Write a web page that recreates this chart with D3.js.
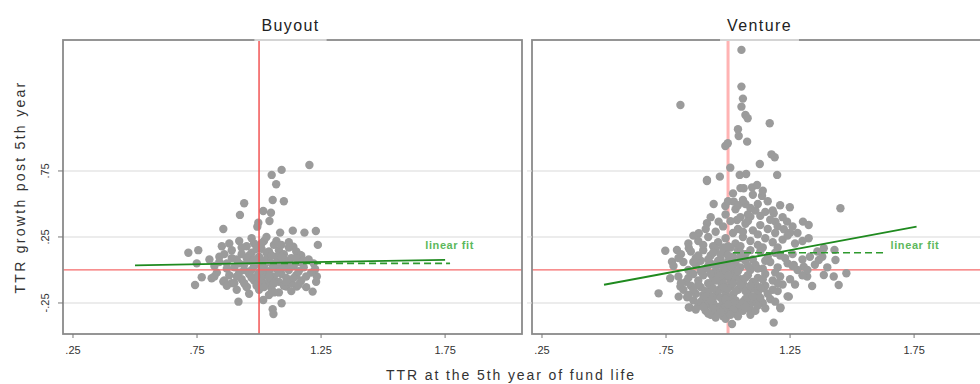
<!DOCTYPE html>
<html>
<head>
<meta charset="utf-8">
<script src="https://cdn.jsdelivr.net/npm/d3@7"></script>
<style>
  body { margin: 0; background: #fff; }
  svg { display: block; font-family: "Liberation Sans", Arial, sans-serif; }
</style>
</head>
<body>
<svg id="chart" width="980" height="384"></svg>
<script>
// Panel names
const panels = ["Buyout", "Venture"];

// Axis ticks
const xTicks = [0.25, 0.75, 1.25, 1.75];
const xTickLabels = [".25", ".75", "1.25", "1.75"];
const yTicks = [0.75, 0.25, -0.25];
const yTickLabels = [".75", ".25", "-.25"];

// Linear fit end points [x, y]
const buyoutFit = [[0.5, 0.035], [1.75, 0.077]];
const ventureFit = [[0.5, -0.112], [1.76, 0.328]];

// Dashed reference segment [x0, x1, y]
const buyoutDash = [1.0, 1.77, 0.05];
const ventureDash = [1.02, 1.64, 0.13];

// Label position "linear fit"
const buyoutLabel = [1.67, 0.19];
const ventureLabel = [1.655, 0.19];

// Buyout scatter (TTR at 5th year, TTR growth post 5th year)
const buyoutPoints = [
  [1.203,0.795],[1.091,0.758],[1.051,0.72],[1.069,0.649],[1.055,0.53],[1.10,0.52],
  [0.94,0.505],[0.923,0.417],[1.017,0.447],[1.048,0.434],[1.042,0.371],[0.997,0.358],
  [0.993,0.328],[0.856,0.31],[1.085,0.283],[1.136,0.298],[1.183,0.283],[1.229,0.295],
  [1.237,0.19],[0.715,0.131],[0.755,0.15],[0.749,0.05],[0.769,-0.055],[0.742,-0.114],
  [0.809,-0.063],[0.917,-0.24],[1.017,-0.227],[1.091,-0.252],[1.055,-0.298],[1.058,-0.333],
  [1.216,-0.164],[1.233,-0.05],[1.226,0.005],[1.165,0.114],[1.138,0.177],[1.152,-0.126],
  [1.11,-0.126],[0.95,-0.126],[0.89,-0.10],[0.856,-0.088],
  [0.80,0.08],[0.82,0.03],[0.84,0.10],[0.83,-0.02],[0.86,0.12],[0.87,0.05],[0.88,-0.04],
  [0.86,-0.08],[0.89,0.15],[0.90,0.02],[0.91,0.08],[0.90,-0.10],[0.92,-0.02],[0.93,0.12],
  [0.94,0.04],[0.93,-0.07],[0.95,0.18],[0.95,-0.13],[0.96,0.07],[0.96,-0.03],[0.97,0.13],
  [0.97,0.00],[0.98,-0.08],[0.98,0.20],[0.99,0.05],[0.99,-0.12],[1.00,0.10],[1.00,-0.02],
  [1.01,0.16],[1.01,-0.06],[1.02,0.03],[1.02,0.22],[1.03,-0.10],[1.03,0.08],[1.04,-0.01],
  [1.04,0.14],[1.05,0.05],[1.05,-0.14],[1.06,0.19],[1.06,-0.05],[1.07,0.10],[1.07,0.01],
  [1.08,-0.09],[1.08,0.15],[1.09,0.04],[1.09,-0.03],[1.10,0.12],[1.10,-0.12],[1.11,0.07],
  [1.11,-0.06],[1.12,0.17],[1.12,0.00],[1.13,-0.10],[1.13,0.09],[1.14,0.03],[1.15,-0.04],
  [1.15,0.14],[1.16,0.06],[1.17,-0.08],[1.17,0.11],[1.18,0.02],[1.19,-0.13],[1.20,0.08],
  [1.21,-0.02],[1.22,0.05],[1.23,-0.09],[0.85,0.18],[0.88,0.20],[0.92,0.22],[0.97,0.24],
  [1.03,0.25],[1.07,0.22],[1.12,0.21],[0.91,-0.15],[0.96,-0.18],[1.00,-0.15],[1.04,-0.19],
  [1.08,-0.17],[1.13,-0.16],[0.94,0.00],[0.98,0.03],[1.02,-0.04],[1.06,0.02],[1.00,0.05],
  [1.04,0.09],[0.96,0.11],[1.08,0.06],[1.01,0.00],[0.99,-0.05],[1.05,-0.08],
  [0.84,0.06],[0.87,0.01],[0.89,0.09],[0.91,-0.05],[0.92,0.05],[0.94,-0.10],[0.95,0.09],
  [0.97,-0.06],[0.98,0.08],[0.99,0.16],[1.01,-0.10],[1.02,0.07],[1.03,0.13],[1.04,-0.05],
  [1.05,0.11],[1.06,-0.10],[1.07,0.05],[1.08,-0.01],[1.09,0.10],[1.10,0.02],[1.11,-0.09],
  [1.12,0.05],[1.14,-0.06],[1.15,0.09],[1.16,-0.01],[1.18,0.07],[1.19,-0.05],[0.93,0.17],
  [1.01,0.20],[1.09,0.19],[0.82,-0.05],[0.87,-0.12],[1.02,-0.13],[1.06,-0.17],[1.16,-0.11]
];

// Venture scatter
const venturePoints = [
  [1.054,1.667],[1.054,1.389],[1.06,1.298],[1.054,1.237],[0.808,1.25],[1.07,1.174],
  [1.079,1.149],[1.168,1.111],[1.04,1.066],[1.043,1.015],[1.077,0.972],[0.989,0.939],
  [0.999,0.96],[1.175,0.876],[1.188,0.854],[1.128,0.803],[1.009,0.775],[0.915,0.682],
  [0.967,0.707],[1.047,0.72],[1.073,0.727],[1.198,0.72],
  [0.915,0.674],[1.063,0.619],[1.097,0.626],[1.117,0.644],[1.137,0.561],[0.942,0.50],
  [0.989,0.485],[1.023,0.518],[1.07,0.50],[1.249,0.475],[1.453,0.467],[0.915,0.354],
  [0.962,0.366],[1.036,0.379],[1.09,0.404],[1.184,0.429],[1.191,0.366],[1.238,0.366],
  [1.302,0.366],[1.325,0.341],[1.225,0.308],[1.251,0.283],[0.882,0.278],[1.325,0.24],
  [0.747,0.146],[0.794,0.152],[0.842,0.164],[1.386,0.164],[1.429,0.152],[1.433,0.076],
  [1.477,-0.025],[1.386,-0.038],[1.426,-0.05],[1.446,-0.114],[1.305,0.025],[1.319,-0.05],
  [1.339,-0.121],[1.265,0.038],[1.366,0.076],[0.72,-0.177],[0.801,-0.202],[0.835,-0.207],
  [0.842,-0.283],[1.211,-0.283],[1.245,-0.202],[1.184,-0.399],[1.016,-0.409],[1.144,-0.139],
  [0.767,-0.063],[0.808,-0.126],[0.774,0.063],[0.846,-0.285],[1.24,-0.20],[0.969,-0.328],
  [1.09,-0.303],[1.211,-0.29],
  [1.03,0.46],[1.06,0.53],[1.09,0.47],[1.12,0.50],[1.15,0.44],[1.08,0.42],[1.13,0.41],
  [1.05,0.40],[1.18,0.45],
  [0.98,0.33],[1.01,0.37],[1.04,0.31],[1.07,0.35],[1.10,0.30],[1.13,0.34],[1.16,0.31],
  [1.20,0.33],[0.95,0.29],[1.02,0.28],[1.12,0.27],[1.19,0.28],
  [0.88,0.22],[0.92,0.25],[0.96,0.21],[0.99,0.24],[1.03,0.20],[1.06,0.25],[1.09,0.22],
  [1.12,0.19],[1.15,0.24],[1.18,0.21],[1.22,0.23],[0.94,0.18],[1.01,0.17],[1.27,0.20],
  [1.30,0.22],
  [0.81,0.12],[0.85,0.14],[0.87,0.09],[0.90,0.15],[0.93,0.11],[0.95,0.16],[0.97,0.08],
  [0.99,0.13],[1.02,0.10],[1.04,0.15],[1.07,0.12],[1.10,0.08],[1.13,0.14],[1.16,0.10],
  [1.19,0.13],[1.23,0.09],[1.26,0.12],[1.33,0.10],[1.36,0.14],
  [0.78,0.03],[0.82,0.06],[0.84,0.00],[0.87,0.04],[0.89,0.07],[0.91,0.01],[0.93,0.05],
  [0.95,-0.01],[0.96,0.07],[0.98,0.02],[1.00,0.06],[1.02,0.00],[1.03,0.05],[1.05,0.02],
  [1.07,0.07],[1.09,0.00],[1.11,0.04],[1.14,0.01],[1.17,0.06],[1.20,0.02],[1.24,0.05],
  [1.28,0.00],[1.35,0.04],[1.40,0.02],
  [0.80,-0.05],[0.83,-0.09],[0.86,-0.03],[0.88,-0.08],[0.90,-0.04],[0.92,-0.10],[0.94,-0.06],
  [0.96,-0.02],[0.97,-0.09],[0.99,-0.05],[1.01,-0.08],[1.03,-0.03],[1.05,-0.07],[1.06,-0.10],
  [1.08,-0.04],[1.10,-0.09],[1.12,-0.06],[1.15,-0.03],[1.18,-0.08],[1.21,-0.05],[1.25,-0.07],
  [1.30,-0.04],
  [0.82,-0.15],[0.85,-0.12],[0.87,-0.18],[0.89,-0.13],[0.91,-0.16],[0.93,-0.12],[0.95,-0.19],
  [0.97,-0.14],[0.99,-0.17],[1.01,-0.12],[1.02,-0.19],[1.04,-0.15],[1.06,-0.13],[1.08,-0.18],
  [1.10,-0.14],[1.12,-0.17],[1.15,-0.12],[1.18,-0.15],[1.22,-0.11],
  [0.86,-0.23],[0.88,-0.27],[0.90,-0.22],[0.92,-0.26],[0.94,-0.21],[0.96,-0.28],[0.98,-0.24],
  [1.00,-0.21],[1.01,-0.27],[1.03,-0.23],[1.05,-0.29],[1.07,-0.22],[1.09,-0.26],[1.11,-0.23],
  [1.14,-0.25],[1.17,-0.22],
  [0.91,-0.31],[0.93,-0.34],[0.95,-0.32],[0.98,-0.35],[1.00,-0.31],[1.03,-0.33],[1.06,-0.31],
  [1.09,-0.34],[0.96,-0.30],[1.11,-0.31],
  [0.95,0.03],[0.97,-0.04],[0.99,0.00],[1.01,0.03],[1.03,-0.06],[0.98,-0.10],[1.00,-0.14],
  [0.96,-0.16],[1.02,-0.22],[0.99,-0.28],[0.94,-0.25],[1.04,-0.26],[0.97,0.12],[1.00,0.18],
  [0.92,0.08],[0.90,-0.19],[1.05,0.09],[1.07,-0.16],
  [1.02,0.58],[1.05,0.62],[1.10,0.57],[1.14,0.60],[1.00,0.52],[1.16,0.52],[1.21,0.49],
  [1.11,0.45],[1.04,0.49],[0.99,0.42],[1.17,0.38],[1.22,0.40],[1.08,0.37],[0.93,0.40],
  [1.26,0.33],[1.28,0.28],[1.24,0.26],[1.06,0.29],[0.91,0.31],[0.86,0.26],
  [0.84,0.20],[0.90,0.19],[0.98,0.17],[1.05,0.18],[1.14,0.17],[1.20,0.17],[0.88,0.11],
  [0.94,0.13],[1.00,0.11],[1.05,0.13],[1.09,0.15],[1.15,0.07],[1.21,0.11],[1.30,0.08],
  [1.38,0.10],[0.80,0.09],[0.86,0.06],[0.92,0.03],[0.97,0.05],[1.04,-0.01],[1.08,0.03],
  [1.12,0.01],[1.19,-0.02],[1.26,0.03],[1.32,0.00],[0.84,-0.06],[0.89,-0.01],[0.93,-0.03],
  [0.95,-0.08],[1.00,-0.04],[1.02,-0.10],[1.07,-0.06],[1.11,-0.11],[1.14,-0.07],[1.20,-0.10],
  [1.27,-0.11],[0.81,-0.10],[0.86,-0.15],[0.88,-0.11],[0.92,-0.17],[0.94,-0.14],[0.98,-0.13],
  [1.03,-0.16],[1.05,-0.11],[1.09,-0.12],[1.13,-0.13],[1.16,-0.18],[1.20,-0.16],[0.84,-0.19],
  [0.89,-0.24],[0.91,-0.20],[0.93,-0.23],[0.97,-0.21],[0.99,-0.22],[1.02,-0.25],[1.06,-0.24],
  [1.08,-0.21],[1.10,-0.20],[1.13,-0.21],[1.19,-0.24],[0.87,-0.30],[0.90,-0.28],[0.94,-0.29],
  [0.97,-0.32],[1.00,-0.26],[1.02,-0.30],[1.04,-0.35],[1.07,-0.28],[1.12,-0.27],[1.15,-0.29],
  [0.99,-0.37],[0.95,-0.36],[1.01,-0.34],[0.92,-0.33]
];

const svg = d3.select("#chart");

const plotTop = 40, plotBottom = 334, panelW = 459;
const y = d3.scaleLinear().domain([-0.485, 1.742]).range([plotBottom, plotTop]);

const setup = [
  { name: panels[0], x0: 63, pts: buyoutPoints, fit: buyoutFit, dash: buyoutDash, lab: buyoutLabel,
    vColor: "#f25555", vWidth: 1.5, redOnTop: true },
  { name: panels[1], x0: 532, pts: venturePoints, fit: ventureFit, dash: ventureDash, lab: ventureLabel,
    vColor: "#ffb3b3", vWidth: 3, redOnTop: false }
];

setup.forEach((p, i) => {
  const x = d3.scaleLinear().domain([0.2097, 2.06]).range([p.x0, p.x0 + panelW]);
  const g = svg.append("g");

  // clip
  const clipId = "clip" + i;
  svg.append("clipPath").attr("id", clipId)
    .append("rect").attr("x", p.x0).attr("y", plotTop).attr("width", panelW).attr("height", plotBottom - plotTop);

  const inner = g.append("g").attr("clip-path", `url(#${clipId})`);

  // gridlines
  inner.selectAll("line.grid").data(yTicks).join("line")
    .attr("x1", p.x0).attr("x2", p.x0 + panelW)
    .attr("y1", d => y(d)).attr("y2", d => y(d))
    .attr("stroke", "#e6e6e6").attr("stroke-width", 1.5);

  function drawRed(layer) {
    layer.append("line")
      .attr("x1", p.x0).attr("x2", p.x0 + panelW)
      .attr("y1", y(0)).attr("y2", y(0))
      .attr("stroke", "#f56a6a").attr("stroke-width", 1.3);
    layer.append("line")
      .attr("x1", x(1)).attr("x2", x(1))
      .attr("y1", plotTop).attr("y2", plotBottom)
      .attr("stroke", p.vColor).attr("stroke-width", p.vWidth);
  }

  if (!p.redOnTop) drawRed(inner);

  inner.selectAll("circle").data(p.pts).join("circle")
    .attr("cx", d => x(d[0])).attr("cy", d => y(d[1]))
    .attr("r", 4.2).attr("fill", "#9b9b9b");

  if (p.redOnTop) drawRed(inner);

  // dashed segment
  inner.append("line")
    .attr("x1", x(p.dash[0])).attr("x2", x(p.dash[1]))
    .attr("y1", y(p.dash[2])).attr("y2", y(p.dash[2]))
    .attr("stroke", "#2e9a2e").attr("stroke-width", 1.6)
    .attr("stroke-dasharray", "7,4");

  // fit line
  inner.append("line")
    .attr("x1", x(p.fit[0][0])).attr("y1", y(p.fit[0][1]))
    .attr("x2", x(p.fit[1][0])).attr("y2", y(p.fit[1][1]))
    .attr("stroke", "#1f8a1f").attr("stroke-width", 1.8);

  inner.append("text")
    .attr("x", x(p.lab[0])).attr("y", y(p.lab[1]) + 4)
    .attr("fill", "#5cb85c").attr("font-size", 11).attr("font-weight", "bold")
    .attr("letter-spacing", 0.6)
    .text("linear fit");

  // frame
  g.append("rect")
    .attr("x", p.x0).attr("y", plotTop).attr("width", panelW).attr("height", plotBottom - plotTop)
    .attr("fill", "none").attr("stroke", "#8a8a8a").attr("stroke-width", 1.8);

  // title strip on top border
  const cx = p.x0 + panelW / 2 - 2;
  const strip = g.append("line")
    .attr("y1", plotTop).attr("y2", plotTop)
    .attr("stroke", "#d4d4d4").attr("stroke-width", 2);
  const title = g.append("text")
    .attr("x", cx).attr("y", 31).attr("text-anchor", "middle")
    .attr("font-size", 16).attr("letter-spacing", 1.4).attr("fill", "#222")
    .text(p.name);
  const tw = title.node().getComputedTextLength();
  strip.attr("x1", cx - tw / 2 - 7).attr("x2", cx + tw / 2 + 7);

  // x ticks
  xTicks.forEach((t, k) => {
    g.append("line")
      .attr("x1", x(t)).attr("x2", x(t)).attr("y1", plotBottom).attr("y2", plotBottom + 4)
      .attr("stroke", "#777").attr("stroke-width", 1);
    g.append("text")
      .attr("x", x(t)).attr("y", plotBottom + 20).attr("text-anchor", "middle")
      .attr("font-size", 11).attr("fill", "#333")
      .text(xTickLabels[k]);
  });

  // y ticks (left only labelled)
  yTicks.forEach((t, k) => {
    g.append("line")
      .attr("x1", p.x0 - 5).attr("x2", p.x0).attr("y1", y(t)).attr("y2", y(t))
      .attr("stroke", i === 0 ? "#777" : "#ddd").attr("stroke-width", 1);
    if (i === 0) {
      g.append("text")
        .attr("transform", `translate(${p.x0 - 14},${y(t)}) rotate(-90)`)
        .attr("text-anchor", "middle")
        .attr("font-size", 11).attr("fill", "#333")
        .text(yTickLabels[k]);
    }
  });
});

// axis titles
svg.append("text")
  .attr("x", 511).attr("y", 380).attr("text-anchor", "middle")
  .attr("font-size", 14).attr("letter-spacing", 1.9).attr("fill", "#333")
  .text("TTR at the 5th year of fund life");

svg.append("text")
  .attr("transform", "translate(25,187) rotate(-90)")
  .attr("text-anchor", "middle")
  .attr("font-size", 14).attr("letter-spacing", 2.3).attr("fill", "#333")
  .text("TTR growth post 5th year");
</script>
</body>
</html>
